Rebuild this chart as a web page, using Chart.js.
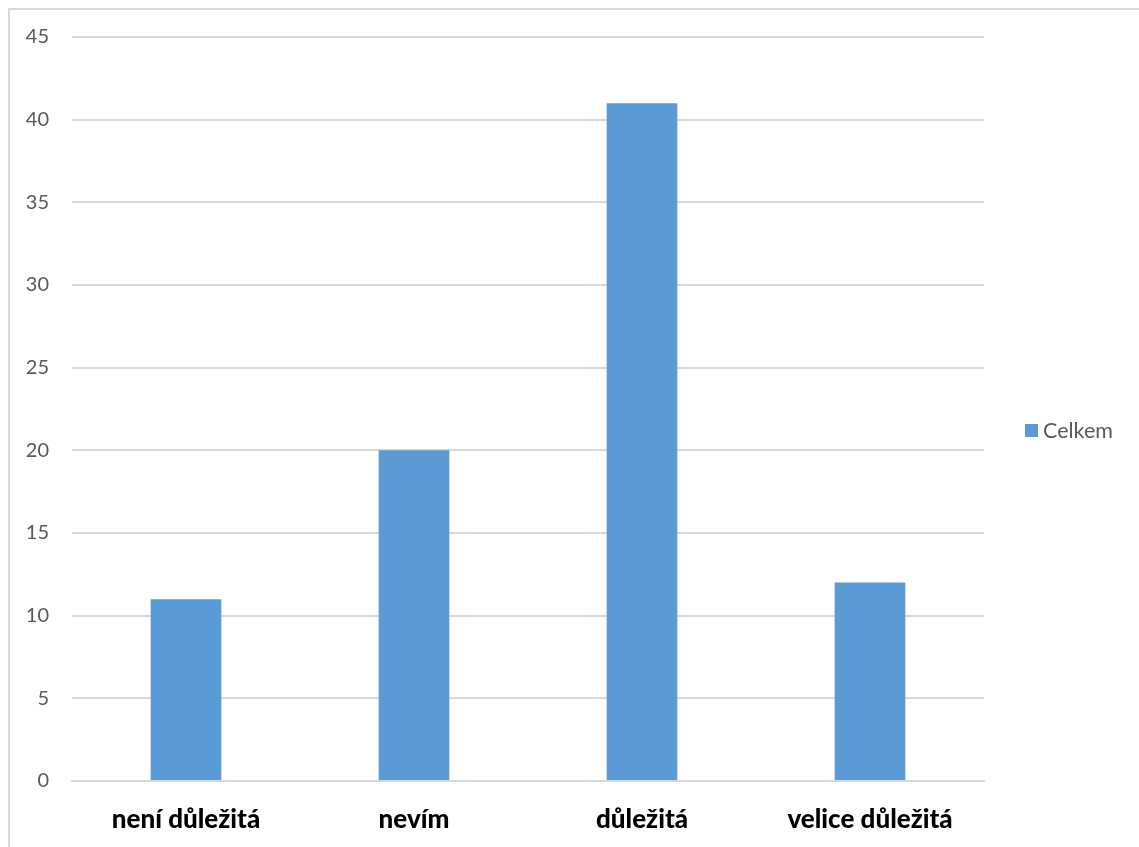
<!DOCTYPE html>
<html>
<head>
<meta charset="utf-8">
<script src="https://cdn.jsdelivr.net/npm/chart.js@4.4.1/dist/chart.umd.min.js"></script>
<style>
  html, body { margin: 0; padding: 0; background: #ffffff; }
  #wrap { position: relative; width: 1139px; height: 847px; }
</style>
</head>
<body>
<div id="wrap"><canvas id="c" width="1139" height="847"></canvas></div>
<script>
// Survey answers: how important it is
const categories = ['není důležitá', 'nevím', 'důležitá', 'velice důležitá'];
const totals = [11, 20, 41, 12];
const seriesName = 'Celkem';
const barColor = '#5b9bd5';

// Light frame around the chart (left and top edges are visible)
const framePlugin = {
  id: 'frame',
  beforeDraw(chart) {
    const ctx = chart.ctx;
    ctx.save();
    ctx.strokeStyle = '#d9d9d9';
    ctx.lineWidth = 2;
    ctx.beginPath();
    ctx.moveTo(9, 847);
    ctx.lineTo(9, 9);
    ctx.lineTo(1139, 9);
    ctx.stroke();
    ctx.restore();
  }
};

// Legend entry drawn to the right of the plot
const sideLegend = {
  id: 'sideLegend',
  afterDraw(chart) {
    const ctx = chart.ctx;
    const ds = chart.data.datasets[0];
    ctx.save();
    ctx.fillStyle = ds.backgroundColor;
    ctx.fillRect(1025, 424, 13, 13);
    ctx.fillStyle = '#595959';
    ctx.font = '21.5px Lato';
    ctx.textBaseline = 'middle';
    ctx.textAlign = 'left';
    ctx.fillText(ds.label, 1043, 431);
    ctx.restore();
  }
};

new Chart(document.getElementById('c'), {
  type: 'bar',
  data: {
    labels: categories,
    datasets: [{
      label: seriesName,
      data: totals,
      backgroundColor: barColor,
      borderWidth: 0,
      categoryPercentage: 1,
      barPercentage: 0.31
    }]
  },
  options: {
    responsive: false,
    animation: false,
    layout: { padding: { top: 37, right: 155, left: 0, bottom: 0 } },
    plugins: { legend: { display: false }, tooltip: { enabled: false } },
    scales: {
      x: {
        grid: { display: false, drawTicks: false },
        border: { display: true, color: '#d9d9d9', width: 2 },
        ticks: {
          color: '#000000',
          font: { family: 'Lato', size: 26, weight: 900 },
          padding: 23,
          maxRotation: 0
        },
        afterFit(scale) { scale.height = 66; }
      },
      y: {
        min: 0,
        max: 45,
        ticks: {
          stepSize: 5,
          color: '#595959',
          font: { family: 'Lato', size: 20 },
          padding: 23
        },
        grid: { color: '#d9d9d9', lineWidth: 2, drawTicks: false },
        border: { display: false },
        afterFit(scale) { scale.width = 72; }
      }
    }
  },
  plugins: [framePlugin, sideLegend]
});
</script>
</body>
</html>
